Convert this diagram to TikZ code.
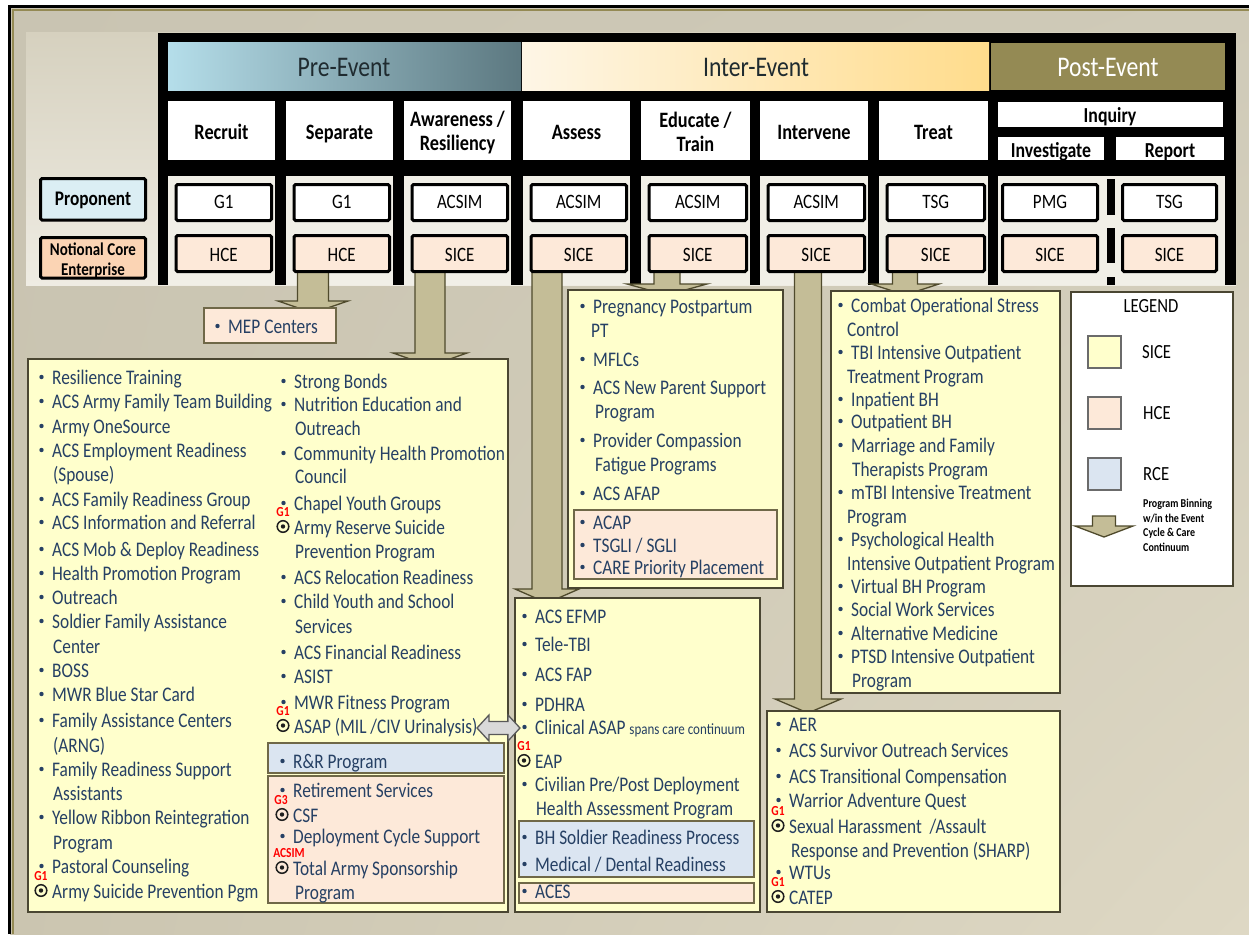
\documentclass[tikz,border=0pt]{standalone}
\usepackage{fontspec}
\setmainfont{Carlito}
\usetikzlibrary{calc,fit,shadings}
\definecolor{txt}{HTML}{264064}
\definecolor{sice}{HTML}{FFFFCC}
\definecolor{hce}{HTML}{FDE9D9}
\definecolor{rce}{HTML}{DBE5F1}
\definecolor{boxline}{HTML}{4A4632}
\definecolor{subline}{HTML}{6F6848}
\definecolor{arrfill}{HTML}{C4BD97}
\definecolor{arrline}{HTML}{4F4A2C}
\definecolor{olivel}{HTML}{948A54}
\definecolor{bgUL}{HTML}{C9C4B2}
\definecolor{bgUR}{HTML}{CFCAB8}
\definecolor{bgLL}{HTML}{CBC5B0}
\definecolor{bgLR}{HTML}{DED8C4}
\definecolor{panTop}{HTML}{D6D1BF}
\definecolor{panBot}{HTML}{EFECE3}
\definecolor{cellc}{HTML}{F1EFE7}
\definecolor{preL}{HTML}{B5DEEA}
\definecolor{preR}{HTML}{5C7880}
\definecolor{intL}{HTML}{FEF6E6}
\definecolor{intR}{HTML}{FFDC8C}
\definecolor{propc}{HTML}{DBEEF4}
\definecolor{ncec}{HTML}{FBD4B4}
\definecolor{dotc}{HTML}{1E1E1E}
\definecolor{dblf}{HTML}{D9D9D9}
\definecolor{dbll}{HTML}{595959}
\definecolor{swl}{HTML}{6B6B6B}
\definecolor{hdrtxt}{HTML}{1F2B30}
\newcommand\vsc[1]{\scalebox{1}[1.2]{#1}}
\tikzset{
 itm/.style={anchor=base west,inner sep=0pt,text=txt,font=\fontsize{17.3}{20}\selectfont},
 redlab/.style={inner sep=0pt,text=red,font=\bfseries\fontsize{11.5}{12}\selectfont},
 bx/.style={inner sep=0pt,draw=boxline,line width=2.6pt},
 subbx/.style={inner sep=0pt,draw=subline,line width=1.4pt},
 blk/.style={fill=arrfill,draw=arrline,line width=1.3pt},
 dblarr/.style={fill=dblf,draw=dbll,line width=1.3pt},
 hdr/.style={anchor=base,inner sep=0pt,font=\fontsize{23.7}{26}\selectfont},
 colh/.style={anchor=base,inner sep=0pt,font=\bfseries\fontsize{18.3}{20}\selectfont},
 subh/.style={anchor=base,inner sep=0pt,font=\bfseries\fontsize{17.8}{20}\selectfont},
 pbox/.style={inner sep=0pt,draw=black,line width=3pt,rounded corners=1.5pt},
 ptxt/.style={anchor=base,inner sep=0pt,font=\fontsize{17}{20}\selectfont},
 wbox/.style={inner sep=0pt,fill=white},
 band/.style={inner sep=0pt},
 lgtxt/.style={anchor=base west,inner sep=0pt,font=\fontsize{16.7}{20}\selectfont},
 smtxt/.style={anchor=base west,inner sep=0pt,font=\bfseries\fontsize{10}{11}\selectfont},
 swatch/.style={inner sep=0pt,draw=swl,line width=1.5pt},
}
\newcommand\itemB[4]{\node[itm] (#1) at (#2,#3) {\vsc{#4}};\fill[txt] ([xshift=-10.5pt,yshift=7pt]#1.base west) circle (2.2pt);}
\newcommand\itemT[4]{\node[itm] (#1) at (#2,#3) {\vsc{#4}};}
\newcommand\itemC[6]{\node[itm] (#1) at (#2,#3) {\vsc{#4}};\draw[dotc,line width=1.5pt] ([xshift=-11pt,yshift=7.5pt]#1.base west) circle (5.8pt);\fill[dotc] ([xshift=-11pt,yshift=7.5pt]#1.base west) circle (2.2pt);\node[redlab] (#1g) at ([xshift=#6pt-11pt,yshift=21.5pt]#1.base west) {\vsc{#5}};}
\newcommand\barrow[5]{\filldraw[blk] let \p1=(#1),\p2=(#2) in (\x1-#3pt,\y1) -- (\x1-#3pt,\y2+#5pt) -- (\x1-#4pt,\y2+#5pt) -- (\x1,\y2) -- (\x1+#4pt,\y2+#5pt) -- (\x1+#3pt,\y2+#5pt) -- (\x1+#3pt,\y1) -- cycle;}
\begin{document}
\begin{tikzpicture}[x=1pt,y=-1pt]
\useasboundingbox (0,0) rectangle (1249,934);
% background
\fill[white] (0,0) rectangle (1249,934);
\shade[upper left=bgUL,upper right=bgUR,lower left=bgLL,lower right=bgLR] (10,8) rectangle (1249,934);
\draw[black,line width=3pt] (9.5,934) -- (9.5,7) -- (1249,7);
\draw[olivel,line width=2pt] (12.5,934) -- (12.5,10) -- (1249,10);
\shade[top color=panTop,bottom color=panBot] (26,33) rectangle (1236,285);
% black frame
\fill[black] (158,33) rectangle (1236,285);
\foreach \a/\b in {168/275,286/393,404/511,523/630,641/750,760/868,879/988,998/1225}
  \fill[cellc] (\a,176) rectangle (\b,285);
% bands
\node[band,left color=preL,right color=preR,fit={(168,43) (521,90)}] (preband) {};
\node[band,left color=intL,right color=intR,fit={(522,43) (989,90)}] (intband) {};
\node[band,fill=olivel,fit={(991,43) (1225,90)}] (postband) {};
\node[hdr,text=hdrtxt] (pret) at (344,77) {\vsc{Pre-Event}};
\node[hdr,text=hdrtxt] (intt) at (756,77) {\vsc{Inter-Event}};
\node[hdr,text=white] (postt) at (1108,77) {\vsc{Post-Event}};
% column header boxes
\node[wbox,fit={(168,101) (275,160)}] (h1) {};
\node[wbox,fit={(286,101) (393,160)}] (h2) {};
\node[wbox,fit={(404,101) (511,160)}] (h3) {};
\node[wbox,fit={(523,101) (630,160)}] (h4) {};
\node[wbox,fit={(641,101) (750,160)}] (h5) {};
\node[wbox,fit={(760,101) (868,160)}] (h6) {};
\node[wbox,fit={(879,101) (988,160)}] (h7) {};
\node[wbox,fit={(998,102) (1223,127)}] (h8) {};
\node[wbox,fit={(998,137) (1104,160)}] (h9) {};
\node[wbox,fit={(1116,137) (1224,160)}] (h10) {};
\node[colh] (h1t) at (221.5,139) {\vsc{Recruit}};
\node[colh] (h2t) at (339.5,139) {\vsc{Separate}};
\node[colh] (h3t) at (457.5,126) {\vsc{Awareness /}};
\node[colh] (h3u) at (457.5,150) {\vsc{Resiliency}};
\node[colh] (h4t) at (576.5,139) {\vsc{Assess}};
\node[colh] (h5t) at (695.5,127) {\vsc{Educate /}};
\node[colh] (h5u) at (695.5,151) {\vsc{Train}};
\node[colh] (h6t) at (814,139) {\vsc{Intervene}};
\node[colh] (h7t) at (933.5,139) {\vsc{Treat}};
\node[subh] (h8t) at (1110,122) {\vsc{Inquiry}};
\node[subh] (h9t) at (1051,157) {\vsc{Investigate}};
\node[subh] (h10t) at (1170,157) {\vsc{Report}};
% left labels
\node[pbox,fill=propc,fit={(40.5,178.5) (145.5,220)}] (prop) {};
\node[colh,font=\bfseries\fontsize{17.3}{20}\selectfont] (propt) at (93,205) {\vsc{Proponent}};
\node[pbox,fill=ncec,fit={(40.5,237.5) (145.5,278)}] (nce) {};
\node[colh,font=\bfseries\fontsize{15}{16}\selectfont] (ncet) at (93,255) {\vsc{Notional Core}};
\node[colh,font=\bfseries\fontsize{15}{16}\selectfont] (nceu) at (93,275) {\vsc{Enterprise}};
% dashed separator in post-event
\fill[black] (1107,179) rectangle (1115,215);
\fill[black] (1107,228) rectangle (1115,263);
\fill[black] (1107,277) rectangle (1115,285);
% block arrows
\coordinate (a1s) at (313,272); \coordinate (a1e) at (313,313);
\coordinate (a2s) at (430,272); \coordinate (a2e) at (430,366);
\coordinate (a3s) at (547,272); \coordinate (a3e) at (547,603);
\coordinate (a4s) at (667,272); \coordinate (a4e) at (667,295);
\coordinate (a5s) at (808,272); \coordinate (a5e) at (808,713);
\coordinate (a6s) at (905,272); \coordinate (a6e) at (905,295);
\barrow{a1s}{a1e}{15.5}{35}{12}
\barrow{a2s}{a2e}{15}{37}{13}
\barrow{a3s}{a3e}{15}{32}{14}
\barrow{a4s}{a4e}{13}{40}{11}
\barrow{a5s}{a5e}{13.5}{33}{14}
\barrow{a6s}{a6e}{12.5}{34}{11}
% proponent / NCE boxes
\node[pbox,fill=white,fit={(176,184.5) (271.5,220.5)}] (p1) {};
\node[pbox,fill=white,fit={(294,184.5) (389.5,220.5)}] (p2) {};
\node[pbox,fill=white,fit={(412,184.5) (507.5,220.5)}] (p3) {};
\node[pbox,fill=white,fit={(531,184.5) (626.5,220.5)}] (p4) {};
\node[pbox,fill=white,fit={(649,184.5) (746.5,220.5)}] (p5) {};
\node[pbox,fill=white,fit={(768,184.5) (864.5,220.5)}] (p6) {};
\node[pbox,fill=white,fit={(887,184.5) (984.5,220.5)}] (p7) {};
\node[pbox,fill=white,fit={(1002.5,184.5) (1097.5,220.5)}] (p8) {};
\node[pbox,fill=white,fit={(1122.5,184.5) (1216.5,220.5)}] (p9) {};
\node[pbox,fill=hce,fit={(176,235.5) (271.5,271.5)}] (n1) {};
\node[pbox,fill=hce,fit={(294,235.5) (389.5,271.5)}] (n2) {};
\node[pbox,fill=hce,fit={(412,235.5) (507.5,271.5)}] (n3) {};
\node[pbox,fill=hce,fit={(531,235.5) (626.5,271.5)}] (n4) {};
\node[pbox,fill=hce,fit={(649,235.5) (746.5,271.5)}] (n5) {};
\node[pbox,fill=hce,fit={(768,235.5) (864.5,271.5)}] (n6) {};
\node[pbox,fill=hce,fit={(887,235.5) (984.5,271.5)}] (n7) {};
\node[pbox,fill=hce,fit={(1002.5,235.5) (1097.5,271.5)}] (n8) {};
\node[pbox,fill=hce,fit={(1122.5,235.5) (1216.5,271.5)}] (n9) {};
\node[ptxt] (p1t) at (223.7,208) {\vsc{G1}};
\node[ptxt] (p2t) at (341.7,208) {\vsc{G1}};
\node[ptxt] (p3t) at (459.7,208) {\vsc{ACSIM}};
\node[ptxt] (p4t) at (578.7,208) {\vsc{ACSIM}};
\node[ptxt] (p5t) at (697.7,208) {\vsc{ACSIM}};
\node[ptxt] (p6t) at (816.2,208) {\vsc{ACSIM}};
\node[ptxt] (p7t) at (935.7,208) {\vsc{TSG}};
\node[ptxt] (p8t) at (1050,208) {\vsc{PMG}};
\node[ptxt] (p9t) at (1169.5,208) {\vsc{TSG}};
\node[ptxt] (n1t) at (223.7,261) {\vsc{HCE}};
\node[ptxt] (n2t) at (341.7,261) {\vsc{HCE}};
\node[ptxt] (n3t) at (459.7,261) {\vsc{SICE}};
\node[ptxt] (n4t) at (578.7,261) {\vsc{SICE}};
\node[ptxt] (n5t) at (697.7,261) {\vsc{SICE}};
\node[ptxt] (n6t) at (816.2,261) {\vsc{SICE}};
\node[ptxt] (n7t) at (935.7,261) {\vsc{SICE}};
\node[ptxt] (n8t) at (1050,261) {\vsc{SICE}};
\node[ptxt] (n9t) at (1169.5,261) {\vsc{SICE}};
% content boxes
\node[subbx,fill=hce,fit={(204,308) (336,343)}] (mep) {};
\node[bx,fill=sice,fit={(28,359) (508,912)}] (lbox) {};
\node[subbx,fill=rce,fit={(268,743) (504,773)}] (lrce) {};
\node[subbx,fill=hce,fit={(268,776) (504,903)}] (lhce) {};
\node[bx,fill=sice,fit={(568,290) (783,588)}] (mtbox) {};
\node[subbx,fill=hce,fit={(574,510) (777,579)}] (mthce) {};
\node[bx,fill=sice,fit={(515,598) (760,912)}] (mbbox) {};
\node[subbx,fill=rce,fit={(519,821) (754,877)}] (mbrce) {};
\node[subbx,fill=hce,fit={(519,883) (754,903)}] (mbhce) {};
\node[bx,fill=sice,fit={(831,291) (1060,693)}] (trbox) {};
\node[bx,fill=white,fit={(1071,292) (1233,586)}] (legend) {};
\node[bx,fill=sice,fit={(767,711) (1060,912)}] (brbox) {};
% double arrow
\coordinate (dA) at (477,728); \coordinate (dB) at (520,728);
\filldraw[dblarr] let \p1=(dA),\p2=(dB) in (\x1,\y1) -- (\x1+12pt,\y1+13pt) -- (\x1+12pt,\y1+6.5pt) -- (\x2-12pt,\y1+6.5pt) -- (\x2-12pt,\y1+13pt) -- (\x2,\y2) -- (\x2-12pt,\y1-13pt) -- (\x2-12pt,\y1-6.5pt) -- (\x1+12pt,\y1-6.5pt) -- (\x1+12pt,\y1-13pt) -- cycle;
% MEP
\itemB{mept}{228}{333}{MEP Centers}
% left column 1
\itemB{l1}{52}{384}{Resilience Training}
\itemB{l2}{52}{408}{ACS Army Family Team Building}
\itemB{l3}{52}{433}{Army OneSource}
\itemB{l4}{52}{457}{ACS Employment Readiness}
\itemT{l5}{53}{481}{(Spouse)}
\itemB{l6}{52}{506}{ACS Family Readiness Group}
\itemB{l7}{52}{529}{ACS Information and Referral}
\itemB{l8}{52}{556}{ACS Mob \& Deploy Readiness}
\itemB{l9}{52}{580}{Health Promotion Program}
\itemB{l10}{52}{604}{Outreach}
\itemB{l11}{52}{628}{Soldier Family Assistance}
\itemT{l12}{53}{653}{Center}
\itemB{l13}{52}{677}{BOSS}
\itemB{l14}{52}{701}{MWR Blue Star Card}
\itemB{l15}{52}{727}{Family Assistance Centers}
\itemT{l16}{53}{752}{(ARNG)}
\itemB{l17}{52}{776}{Family Readiness Support}
\itemT{l18}{53}{800}{Assistants}
\itemB{l19}{52}{824}{Yellow Ribbon Reintegration}
\itemT{l20}{53}{849}{Program}
\itemB{l21}{52}{873}{Pastoral Counseling}
\itemC{l22}{52}{898}{Army Suicide Prevention Pgm}{G1}{0}
% left column 2
\itemB{r1}{294}{388}{Strong Bonds}
\itemB{r2}{294}{411}{Nutrition Education and}
\itemT{r3}{295}{435}{Outreach}
\itemB{r4}{294}{460}{Community Health Promotion}
\itemT{r5}{295}{483}{Council}
\itemB{r6}{294}{510}{Chapel Youth Groups}
\itemC{r7}{294}{534}{Army Reserve Suicide}{G1}{0}
\itemT{r8}{295}{558}{Prevention Program}
\itemB{r9}{294}{584}{ACS Relocation Readiness}
\itemB{r10}{294}{608}{Child Youth and School}
\itemT{r11}{295}{633}{Services}
\itemB{r12}{294}{659}{ACS Financial Readiness}
\itemB{r13}{294}{683}{ASIST}
\itemB{r14}{294}{709}{MWR Fitness Program}
\itemC{r15}{294}{733}{ASAP (MIL /CIV Urinalysis)}{G1}{0}
\itemB{r16}{293}{768}{R\&R Program}
\itemB{r17}{293}{797}{Retirement Services}
\itemC{r18}{293}{822}{CSF}{G3}{-1}
\itemB{r19}{293}{843}{Deployment Cycle Support}
\itemC{r20}{293}{875}{Total Army Sponsorship}{ACSIM}{7}
\itemT{r21}{295}{899}{Program}
% middle top
\itemB{m1}{593}{313}{Pregnancy Postpartum}
\itemT{m2}{591}{337}{PT}
\itemB{m3}{593}{366}{MFLCs}
\itemB{m4}{593}{394}{ACS New Parent Support}
\itemT{m5}{595}{418}{Program}
\itemB{m6}{593}{447}{Provider Compassion}
\itemT{m7}{595}{471}{Fatigue Programs}
\itemB{m8}{593}{500}{ACS AFAP}
\itemB{m9}{593}{529}{ACAP}
\itemB{m10}{593}{552}{TSGLI / SGLI}
\itemB{m11}{593}{574}{CARE Priority Placement}
% middle bottom
\itemB{b1}{535}{623}{ACS EFMP}
\itemB{b2}{535}{651}{Tele-TBI}
\itemB{b3}{535}{681}{ACS FAP}
\itemB{b4}{535}{711}{PDHRA}
\itemB{b5}{535}{734}{Clinical ASAP {\fontsize{13}{14}\selectfont spans care continuum}}
\itemC{b6}{535}{768}{EAP}{G1}{0}
\itemB{b7}{535}{791}{Civilian Pre/Post Deployment}
\itemT{b8}{536}{815}{Health Assessment Program}
\itemB{b9}{535}{844}{BH Soldier Readiness Process}
\itemB{b10}{535}{871}{Medical / Dental Readiness}
\itemB{b11}{535}{898}{ACES}
% treat
\itemB{t1}{851}{312}{Combat Operational Stress}
\itemT{t2}{847}{336}{Control}
\itemB{t3}{851}{359}{TBI Intensive Outpatient}
\itemT{t4}{847}{383}{Treatment Program}
\itemB{t5}{851}{406}{Inpatient BH}
\itemB{t6}{851}{428}{Outpatient BH}
\itemB{t7}{851}{452}{Marriage and Family}
\itemT{t8}{852}{476}{Therapists Program}
\itemB{t9}{851}{499}{mTBI Intensive Treatment}
\itemT{t10}{847}{523}{Program}
\itemB{t11}{851}{546}{Psychological Health}
\itemT{t12}{847}{570}{Intensive Outpatient Program}
\itemB{t13}{851}{593}{Virtual BH Program}
\itemB{t14}{851}{616}{Social Work Services}
\itemB{t15}{851}{640}{Alternative Medicine}
\itemB{t16}{851}{663}{PTSD Intensive Outpatient}
\itemT{t17}{852}{687}{Program}
% bottom right
\itemB{w1}{789}{731}{AER}
\itemB{w2}{789}{757}{ACS Survivor Outreach Services}
\itemB{w3}{789}{783}{ACS Transitional Compensation}
\itemB{w4}{789}{807}{Warrior Adventure Quest}
\itemC{w5}{789}{833}{Sexual Harassment \ /Assault}{G1}{0}
\itemT{w6}{791}{857}{Response and Prevention (SHARP)}
\itemB{w7}{789}{879}{WTUs}
\itemC{w8}{789}{904}{CATEP}{G1}{0}
% legend
\node[lgtxt,anchor=base] (lgt) at (1151,312) {\vsc{LEGEND}};
\node[swatch,fill=sice,fit={(1088,336) (1121,368)}] (sw1) {};
\node[swatch,fill=hce,fit={(1088,397) (1121,429)}] (sw2) {};
\node[swatch,fill=rce,fit={(1088,458) (1121,490)}] (sw3) {};
\node[lgtxt] (sw1t) at (1142,358) {\vsc{SICE}};
\node[lgtxt] (sw2t) at (1143,419) {\vsc{HCE}};
\node[lgtxt] (sw3t) at (1143,480) {\vsc{RCE}};
\coordinate (lgs) at (1104,516); \coordinate (lge) at (1104,537);
\barrow{lgs}{lge}{11.5}{29}{11}
\node[smtxt] (lg1) at (1143,507) {\vsc{Program Binning}};
\node[smtxt] (lg2) at (1143,522) {\vsc{w/in the Event}};
\node[smtxt] (lg3) at (1143,536) {\vsc{Cycle \& Care}};
\node[smtxt] (lg4) at (1143,551) {\vsc{Continuum}};
\end{tikzpicture}
\end{document}
